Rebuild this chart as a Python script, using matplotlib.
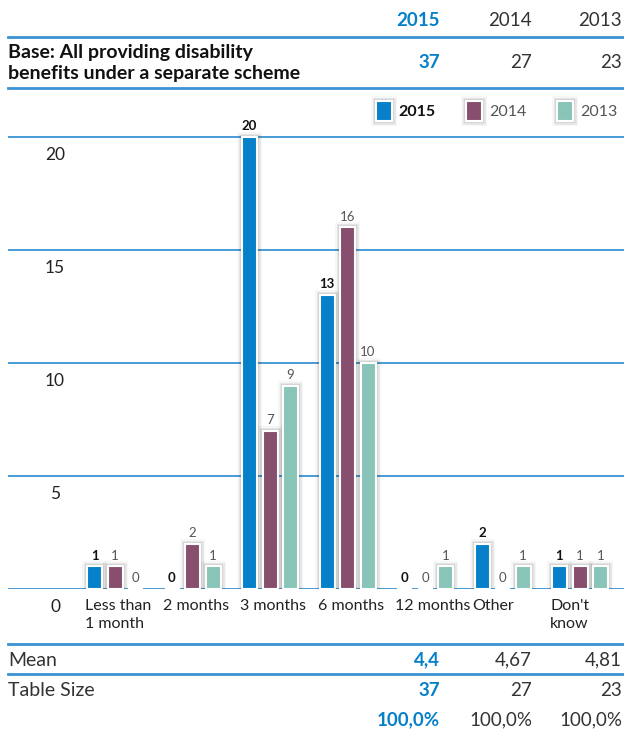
import numpy as np
import matplotlib.pyplot as plt
import matplotlib.patheffects as pe
from matplotlib.lines import Line2D
from matplotlib.patches import Patch

plt.rcParams['font.family'] = ['Lato', 'DejaVu Sans']

# data
categories = ["Less than\n1 month", "2 months", "3 months", "6 months",
              "12 months", "Other", "Don't\nknow"]
years = ["2015", "2014", "2013"]
v2015 = [1, 0, 20, 13, 0, 2, 1]
v2014 = [1, 2, 7, 16, 0, 0, 1]
v2013 = [0, 1, 9, 10, 1, 1, 1]
base_sizes = ["37", "27", "23"]
means = ["4,4", "4,67", "4,81"]
table_sizes = ["37", "27", "23"]
totals = ["100,0%", "100,0%", "100,0%"]
yticks = [0, 5, 10, 15, 20]

BLUE = "#0580c9"
PURPLE = "#874e6d"
TEAL = "#88c5b8"
LINE = "#3a93d5"
colors = [BLUE, PURPLE, TEAL]

W, H = 624, 731
fig = plt.figure(figsize=(W / 100, H / 100), dpi=100)


def fx(px):
    return px / W


def fy(py):
    return 1 - py / H


# bar area: y=0 at 589px, y=20 at 137px
unit = (589 - 137) / 20
top_px = 125
ax = fig.add_axes([fx(8), fy(589), fx(624) - fx(8), (589 - top_px) / H])
ax.set_ylim(0, (589 - top_px) / unit)
step = 77.5
ax.set_xlim((8 - 115) / step, (624 - 115) / step)
ax.axis('off')

for t in yticks:
    ax.axhline(t, color=LINE, lw=1.3, zorder=1)
    ax.annotate(str(t), xy=(fx(55), t), xycoords=('figure fraction', 'data'),
                xytext=(0, -7), textcoords='offset points',
                ha='center', va='top', fontsize=12.5, color='#222222')

# soft grey glow around each bar
glow = [pe.Stroke(linewidth=7, foreground=(0, 0, 0, 0.035)),
        pe.Stroke(linewidth=5, foreground=(0, 0, 0, 0.06)),
        pe.Stroke(linewidth=3, foreground=(0, 0, 0, 0.08)),
        pe.Normal()]

x = np.arange(len(categories))
bw = 15 / step
off = 20.5 / step
series = [v2015, v2014, v2013]
for k, (vals, col) in enumerate(zip(series, colors)):
    xs = x + (k - 1) * off
    bars = ax.bar(xs, vals, bw, color=col, edgecolor='white', linewidth=1.5,
                  zorder=3, label=years[k])
    for b, v in zip(bars, vals):
        if v > 0:
            b.set_path_effects(glow)
        ax.annotate(str(v), xy=(b.get_x() + b.get_width() / 2, v),
                    xytext=(0, 3.5), textcoords='offset points', ha='center', va='bottom',
                    fontsize=9.5, fontweight='bold' if k == 0 else 'normal',
                    color='#111111' if k == 0 else '#555555', zorder=5)

for i, lab in enumerate(categories):
    ax.annotate(lab, xy=(x[i], 0), xytext=(-21.5, -7), textcoords='offset points',
                ha='left', va='top', fontsize=11.5, color='#222222', linespacing=1.4)

# legend
handles = [Patch(facecolor=c, edgecolor='white', linewidth=1.5, path_effects=glow)
           for c in colors]
leg = fig.legend(handles, years, loc='center right', bbox_to_anchor=(fx(632), fy(111)),
                 ncol=3, frameon=False, fontsize=11.5, handlelength=1.0, handleheight=1.5,
                 handletextpad=0.45, columnspacing=1.9)
for i, t in enumerate(leg.get_texts()):
    t.set_color('#111111' if i == 0 else '#555555')
    if i == 0:
        t.set_fontweight('bold')

# table lines
for py in [37, 88, 644, 674]:
    fig.add_artist(Line2D([fx(8), fx(624)], [fy(py), fy(py)], color=LINE, lw=2))

col_right = [440, 532, 622]


def row(py, vals, label=None, bold_label=False):
    for j, v in enumerate(vals):
        fig.text(fx(col_right[j]), fy(py), v, ha='right', va='center', fontsize=13.5,
                 color=BLUE if j == 0 else '#333333',
                 fontweight='bold' if j == 0 else 'normal')
    if label:
        fig.text(fx(8), fy(py), label, ha='left', va='center', fontsize=14,
                 color='#111111' if bold_label else '#333333',
                 fontweight='bold' if bold_label else 'normal', linespacing=1.35)


row(20, years)
row(63, base_sizes, "Base: All providing disability\nbenefits under a separate scheme", True)
row(660, means, "Mean")
row(690, table_sizes, "Table Size")
row(720, totals)

fig.savefig("out.png", dpi=100)
